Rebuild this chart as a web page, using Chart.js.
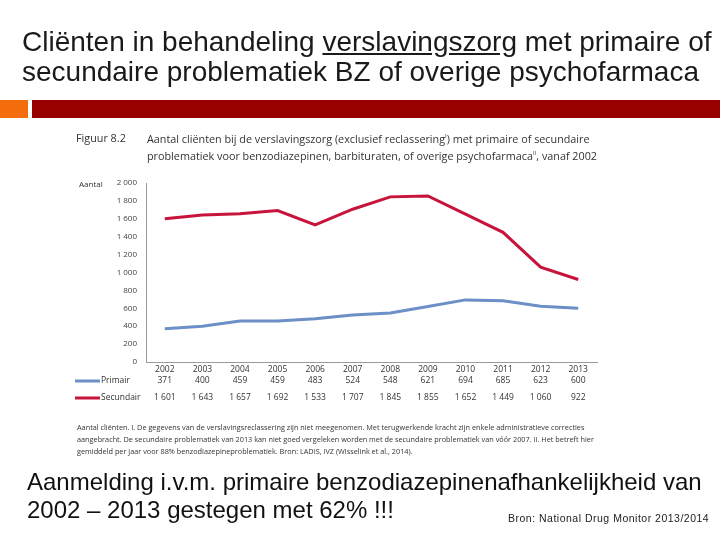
<!DOCTYPE html>
<html lang="nl">
<head>
<meta charset="UTF-8">
<title>Cliënten verslavingszorg BZ</title>
<script src="https://cdn.jsdelivr.net/npm/chart.js"></script>
<style>
    html, body { margin: 0; padding: 0; background: #fff; }
    body { width: 720px; height: 540px; position: relative; overflow: hidden; font-family: 'Liberation Sans', Arial, sans-serif; }
    .abs { position: absolute; white-space: nowrap; }
    #chartBox { position: absolute; left: 0; top: 0; width: 720px; height: 540px; }
    .title { left: 22px; font-size: 28px; color: #1a1a1a; line-height: 30px; }
    .fig { font-family: 'Open Sans', sans-serif; color: #333; }
    .fig sup { font-size: 6px; line-height: 0; }
    .note { left: 77px; font-family: 'Open Sans', sans-serif; font-size: 7.3px; color: #333; line-height: 12px; }
    .big { left: 27px; font-size: 24px; color: #111; line-height: 28px; }
</style>
</head>
<body>
    <div id="chartBox"><canvas id="chart" width="720" height="540"></canvas></div>

    <div class="abs title" style="top:27px">Cliënten in behandeling <span style="text-decoration:underline">verslavingszorg</span> met primaire of</div>
    <div class="abs title" style="top:57px">secundaire problematiek BZ of overige psychofarmaca</div>

    <div class="abs" style="left:0;top:100px;width:28px;height:18px;background:#f46d0c"></div>
    <div class="abs" style="left:32px;top:100px;width:688px;height:18px;background:#990000"></div>

    <div class="abs fig" style="left:76px;top:130px;font-size:10.8px">Figuur 8.2</div>
    <div class="abs fig" style="left:147px;top:130px;font-size:10.8px;line-height:17px">Aantal cliënten bij de verslavingszorg (exclusief reclassering<sup>I</sup>) met primaire of secundaire<br>problematiek voor benzodiazepinen, barbituraten, of overige psychofarmaca<sup>II</sup>, vanaf 2002</div>
    <div class="abs fig" style="left:79px;top:178px;font-size:8px">Aantal</div>

    <div class="abs note" style="top:421px">Aantal cliënten. I. De gegevens van de verslavingsreclassering zijn niet meegenomen. Met terugwerkende kracht zijn enkele administratieve correcties</div>
    <div class="abs note" style="top:433px">aangebracht. De secundaire problematiek van 2013 kan niet goed vergeleken worden met de secundaire problematiek van vóór 2007. II. Het betreft hier</div>
    <div class="abs note" style="top:445px">gemiddeld per jaar voor 88% benzodiazepineproblematiek. Bron: LADIS, IVZ (Wisselink et al., 2014).</div>

    <div class="abs big" style="top:468px">Aanmelding i.v.m. primaire benzodiazepinenafhankelijkheid van</div>
    <div class="abs big" style="top:496px">2002 – 2013 gestegen met 62% !!!</div>
    <div class="abs" style="left:508px;top:512px;font-size:10.5px;color:#222;letter-spacing:0.5px">Bron: National Drug Monitor 2013/2014</div>

<script>
const years = ['2002', '2003', '2004', '2005', '2006', '2007', '2008', '2009', '2010', '2011', '2012', '2013'];
const primair = [371, 400, 459, 459, 483, 524, 548, 621, 694, 685, 623, 600];
const secundair = [1601, 1643, 1657, 1692, 1533, 1707, 1845, 1855, 1652, 1449, 1060, 922];
const seriesNames = ['Primair', 'Secundair'];

const blue = '#6b8fc6';
const red = '#c8133b';

// number format with a space as thousands separator, as in the figure
const fmt = v => v >= 1000 ? Math.floor(v / 1000) + ' ' + String(v % 1000).padStart(3, '0') : String(v);

// table with values under the x axis, positioned from the x scale
const tablePlugin = {
    id: 'dataTable',
    afterDraw(chart) {
        const ctx = chart.ctx;
        const x = chart.scales.x;
        const rows = [
            { name: seriesNames[0], data: primair, color: blue, y: 381 },
            { name: seriesNames[1], data: secundair, color: red, y: 398 }
        ];
        ctx.save();
        ctx.font = '8.5px "Open Sans", sans-serif';
        ctx.textBaseline = 'middle';
        rows.forEach(r => {
            ctx.strokeStyle = r.color;
            ctx.lineWidth = 3;
            ctx.beginPath();
            ctx.moveTo(75, r.y);
            ctx.lineTo(100, r.y);
            ctx.stroke();
            ctx.fillStyle = '#333';
            ctx.textAlign = 'left';
            ctx.fillText(r.name, 101, r.y);
            ctx.textAlign = 'center';
            r.data.forEach((v, i) => ctx.fillText(fmt(v), x.getPixelForValue(i), r.y));
        });
        ctx.restore();
    }
};

new Chart(document.getElementById('chart'), {
    type: 'line',
    data: {
        labels: years,
        datasets: [
            { label: seriesNames[0], data: primair, borderColor: blue, borderWidth: 3, pointRadius: 0, tension: 0 },
            { label: seriesNames[1], data: secundair, borderColor: red, borderWidth: 3, pointRadius: 0, tension: 0 }
        ]
    },
    options: {
        responsive: false,
        animation: false,
        layout: { padding: { left: 100, right: 123, top: 183, bottom: 158 } },
        plugins: { legend: { display: false }, tooltip: { enabled: false } },
        scales: {
            x: {
                offset: true,
                grid: { display: false, drawTicks: false },
                border: { display: true, color: '#9a9a9a', width: 1 },
                ticks: { color: '#333', font: { family: 'Open Sans', size: 8.5 }, padding: 2, maxRotation: 0 },
                afterFit: s => { s.height = 20; }
            },
            y: {
                min: 0,
                max: 2000,
                grid: { display: false, drawTicks: false },
                border: { display: true, color: '#9a9a9a', width: 1 },
                ticks: { stepSize: 200, color: '#444', font: { family: 'Open Sans', size: 8 }, padding: 9, callback: v => fmt(v) },
                afterFit: s => { s.width = 46; }
            }
        }
    },
    plugins: [tablePlugin]
});
</script>
</body>
</html>
